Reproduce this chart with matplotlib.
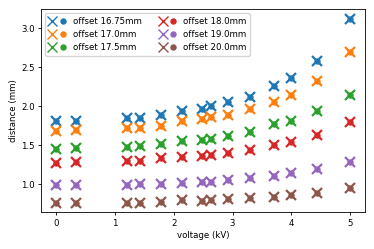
import numpy as np
import matplotlib.pyplot as plt
from matplotlib.lines import Line2D
from matplotlib.legend_handler import HandlerTuple

# everything scaled down ~0.62 from the defaults
plt.rcParams['font.size'] = 6.2
plt.rcParams['axes.linewidth'] = 0.6
plt.rcParams['xtick.major.size'] = 2.3
plt.rcParams['ytick.major.size'] = 2.3
plt.rcParams['xtick.major.width'] = 0.6
plt.rcParams['ytick.major.width'] = 0.6
plt.rcParams['xtick.major.pad'] = 2.3
plt.rcParams['ytick.major.pad'] = 2.3
plt.rcParams['axes.labelpad'] = 2.5

voltage = [0, 0.35, 1.2, 1.43, 1.79, 2.14, 2.49, 2.64, 2.93, 3.29, 3.71, 4.0, 4.43, 5.0]

offsets = ['16.75', '17.0', '17.5', '18.0', '19.0', '20.0']

d_1675 = [1.81, 1.81, 1.85, 1.855, 1.89, 1.94, 1.97, 2.0, 2.05, 2.115, 2.265, 2.36, 2.585, 3.115]
d_170 = [1.685, 1.69, 1.72, 1.72, 1.75, 1.81, 1.83, 1.86, 1.89, 1.96, 2.06, 2.14, 2.33, 2.70]
d_175 = [1.455, 1.465, 1.48, 1.49, 1.52, 1.55, 1.57, 1.585, 1.62, 1.67, 1.77, 1.81, 1.94, 2.14]
d_180 = [1.277, 1.28, 1.30, 1.30, 1.33, 1.345, 1.36, 1.375, 1.405, 1.435, 1.50, 1.545, 1.63, 1.80]
d_190 = [0.982, 0.987, 0.99, 0.995, 1.0, 1.01, 1.025, 1.03, 1.055, 1.075, 1.11, 1.14, 1.20, 1.285]
d_200 = [0.751, 0.756, 0.76, 0.76, 0.77, 0.79, 0.785, 0.80, 0.81, 0.815, 0.84, 0.855, 0.89, 0.95]

distances = [d_1675, d_170, d_175, d_180, d_190, d_200]

fig, ax = plt.subplots(figsize=(3.74, 2.49), dpi=100)
fig.subplots_adjust(left=0.11, right=0.976, top=0.964, bottom=0.147)

handles = []
labels = []
for i, (off, d) in enumerate(zip(offsets, distances)):
    c = 'C%d' % i
    ax.plot(voltage, d, 'x', color=c, markersize=7.2, markeredgewidth=1.6)
    ax.plot(voltage, d, 'o', color=c, markersize=3.6)
    hx = Line2D([], [], ls='', marker='x', color=c, markersize=7.2, markeredgewidth=1.0)
    ho = Line2D([], [], ls='', marker='o', color=c, markersize=3.6)
    handles.append((hx, ho))
    labels.append('offset %smm' % off)

ax.set_xlabel('voltage (kV)')
ax.set_ylabel('distance (mm)')
ax.set_ylim(0.636, 3.25)
ax.set_xticks([0, 1, 2, 3, 4, 5])
ax.set_yticks([1.0, 1.5, 2.0, 2.5, 3.0])

ax.legend(handles, labels, ncol=2, loc='upper left',
          handler_map={tuple: HandlerTuple(ndivide=None)})

fig.savefig('out.png', dpi=100)
